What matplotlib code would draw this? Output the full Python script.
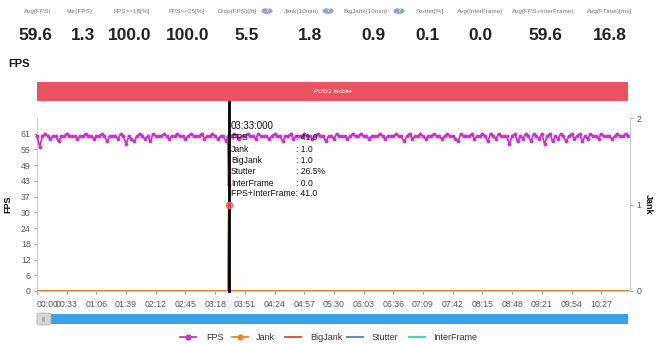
import matplotlib
matplotlib.use("Agg")
import matplotlib.pyplot as plt
from matplotlib.patches import Rectangle, FancyBboxPatch, Circle
from matplotlib.lines import Line2D

plt.rcParams['font.family'] = ['Liberation Sans', 'DejaVu Sans']

# ---- summary header ----
stat_labels = ["Avg(FPS)", "Var(FPS)", "FPS>=18[%]", "FPS>=25[%]", "Drop(FPS)[/h]",
               "Jank(10min)", "BigJank(10min)", "Stutter[%]", "Avg(InterFrame)",
               "Avg(FPS+InterFrame)", "Avg(FTime)[ms]"]
stat_values = ["59.6", "1.3", "100.0", "100.0", "5.5", "1.8", "0.9", "0.1", "0.0", "59.6", "16.8"]
stat_help = [False, False, False, False, True, True, True, False, False, False, False]

# ---- FPS, one sample every 3 seconds ----
step_s = 3
fps_grid = [
    60, 56, 60, 61, 60, 59, 60, 60, 58, 60, 60, 61, 60, 60, 60, 59, 60, 60, 61, 60,
    60, 59, 60, 60, 61, 60, 58, 60, 60, 60, 59, 61, 60, 57, 60, 59, 58, 60, 61, 60,
    59, 60, 58, 61, 60, 60, 60, 61, 60, 59, 60, 60, 61, 60, 60, 59, 60, 61, 60, 60,
    60, 61, 59, 60, 60, 61, 60, 59, 60, 60, 58, 60, 60, 61, 60, 59, 60, 60, 61, 60,
    60, 59, 61, 60, 60, 60, 59, 60, 61, 60, 60, 58, 60, 60, 61, 59, 60, 60, 60, 61,
    60, 60, 59, 60, 61, 60, 60, 58, 60, 60, 59, 61, 60, 60, 60, 59, 60, 61, 60, 60,
    61, 60, 60, 59, 60, 60, 60, 61, 60, 59, 60, 60, 60, 61, 60, 60, 58, 60, 61, 59,
    60, 60, 61, 60, 59, 60, 60, 61, 60, 60, 59, 60, 61, 60, 60, 59, 58, 61, 60, 60,
    60, 61, 59, 60, 60, 61, 60, 58, 61, 60, 59, 61, 60, 60, 60, 57, 60, 61, 58, 60,
    59, 61, 60, 58, 61, 60, 59, 61, 57, 60, 61, 58, 60, 59, 61, 60, 58, 60, 61, 59,
    60, 61, 58, 60, 59, 61, 60, 60, 59, 61, 60, 60, 60, 59, 60, 61, 60, 60, 61, 60,
]

# ---- the single hitch at 03:33, logged at 1-second resolution ----
event_times = [212, 213, 214]
event_fps = [60, 41, 60]
event_jank = [0, 1, 0]
event_bigjank = [0, 1, 0]
event_stutter = [0.0, 26.5, 0.0]
event_interframe = [0, 0, 0]

tick_secs = list(range(0, 628, 33))
tick_labels = ["%02d:%02d" % (s // 60, s % 60) for s in tick_secs]

# merge the regular grid with the event samples
grid_times = [i * step_s for i in range(len(fps_grid))]
merged = sorted(
    [(t, f, 0, 0, 0.0, 0) for t, f in zip(grid_times, fps_grid) if t not in event_times]
    + list(zip(event_times, event_fps, event_jank, event_bigjank, event_stutter,
               event_interframe))
)
times = [m[0] for m in merged]
fps = [m[1] for m in merged]
jank = [m[2] for m in merged]
bigjank = [m[3] for m in merged]
stutter = [m[4] for m in merged]
interframe = [m[5] for m in merged]
event_idx = times.index(213)

# ---- colours ----
C_FPS = "#c935c9"
C_JANK = "#f0842f"
C_BIG = "#e8402f"
C_STUT = "#3b82e0"
C_INTER = "#2fd3b3"
C_BAR = "#e9525f"
C_TXT = "#555555"

W, H = 660, 345
fig = plt.figure(figsize=(W / 100, H / 100), dpi=100)

def fx(px):
    return px / W

def fy(py):
    return 1 - py / H

# header
label_x = [38, 80, 132, 187, 237, 302, 366, 430, 480, 543, 610]
value_x = [35, 83, 130, 188, 247, 310, 373, 428, 480, 545, 610]
help_x = [0, 0, 0, 0, 267, 328, 399, 0, 0, 0, 0]
for lab, val, lx, vx, hlp, hx in zip(stat_labels, stat_values, label_x, value_x, stat_help, help_x):
    fig.text(fx(lx), fy(12), lab, ha="center", va="center", fontsize=4.6, color="#777777")
    fig.text(fx(vx), fy(35), val, ha="center", va="center", fontsize=12.5,
             fontweight="bold", color="#222222")
    if hlp:
        fig.patches.append(Circle((fx(hx), fy(11)), 0.0085, transform=fig.transFigure,
                                  facecolor="#9aa4c8", edgecolor="none"))
        fig.text(fx(hx), fy(11), "?", ha="center", va="center", fontsize=3.5,
                 color="white", fontweight="bold")

fig.text(fx(8), fy(64), "FPS", ha="left", va="center", fontsize=8, fontweight="bold",
         color="#111111")

# scene bar
fig.patches.append(Rectangle((fx(37), fy(101)), fx(628) - fx(37), fy(82) - fy(101),
                             transform=fig.transFigure, facecolor=C_BAR, edgecolor="none"))
fig.text((fx(37) + fx(628)) / 2, (fy(82) + fy(101)) / 2, "PUBG Mobile", ha="center",
         va="center", fontsize=4.5, color="white")

# main axes; stutter axis sits beneath the jank axis
left, right, bottom, top = fx(37), fx(630), fy(291), fy(118)
ax = fig.add_axes([left, bottom, right - left, top - bottom])
ax3 = ax.twinx()
ax2 = ax.twinx()

fps_max = 67.1
ax.set_xlim(0, 659)
ax.set_ylim(0, fps_max)
yt = [round(6.1 * k, 1) for k in range(11)]
ax.set_yticks(yt)
ax.set_yticklabels([str(int(round(v))) for v in yt])
ax.set_xticks(tick_secs)
ax.set_xticklabels(tick_labels)
ax.get_xticklabels()[0].set_horizontalalignment("left")
ax.tick_params(axis="both", labelsize=6.3, colors="#888888", labelcolor=C_TXT, length=2.5,
               width=0.6, pad=2)
ax.tick_params(axis="x", pad=4)
for side in ["top", "right"]:
    ax.spines[side].set_visible(False)
for side in ["left", "bottom"]:
    ax.spines[side].set_color("#cccccc")
    ax.spines[side].set_linewidth(0.8)
ax.set_ylabel("FPS", fontsize=6.5, fontweight="bold", color="#111111", labelpad=6)

ax2.set_ylim(0, 2)
ax2.set_yticks([0, 1, 2])
ax2.tick_params(axis="y", labelsize=6.3, colors="#888888", labelcolor=C_TXT, length=2.5,
                width=0.6, pad=2)
for side in ["top", "left", "bottom"]:
    ax2.spines[side].set_visible(False)
ax2.spines["right"].set_color("#cccccc")
ax2.spines["right"].set_linewidth(0.8)
ax2.set_ylabel("Jank", fontsize=6.5, fontweight="bold", color="#111111", rotation=270,
               labelpad=8)

ax3.set_ylim(0, 100)
ax3.axis("off")

ax.plot(times, fps, color=C_FPS, lw=1.3, marker="o", ms=2.2, mew=0.6, zorder=3,
        clip_on=False)
ax3.plot(times, stutter, color=C_STUT, lw=1.0, zorder=2)
ax2.plot(times, interframe, color=C_INTER, lw=1.0, zorder=2)
ax2.plot(times, bigjank, color=C_BIG, lw=1.0, zorder=2)
ax2.plot(times, jank, color=C_JANK, lw=1.0, zorder=2)

# axis pointer at the selected sample
t_sel = times[event_idx]
ax2.axvline(t_sel, ymin=0, ymax=(291 - 101) / (291 - 118), color="black", lw=2.0,
            clip_on=False, zorder=6)
ax2.plot([t_sel], [jank[event_idx]], "o", ms=4.5, color="#f06060", alpha=0.85, zorder=7)

# tooltip
tip_rows = [("FPS", ": %.1f" % fps[event_idx]),
            ("Jank", ": %.1f" % jank[event_idx]),
            ("BigJank", ": %.1f" % bigjank[event_idx]),
            ("Stutter", ": %.1f%%" % stutter[event_idx]),
            ("InterFrame", ": %.1f" % interframe[event_idx]),
            ("FPS+InterFrame", ": %.1f" % (fps[event_idx] + interframe[event_idx]))]
fig.text(fx(231), fy(126), "03:33:000", ha="left", va="center", fontsize=7, color="#111111",
         zorder=9)
row_y = [138, 149, 160, 171, 183, 194]
for (k, v), ry in zip(tip_rows, row_y):
    if k == "FPS+InterFrame":
        fig.text(fx(231), fy(ry), k + v.lstrip(" "), ha="left",
                 va="center", fontsize=6.2, color="#111111", zorder=9)
        continue
    fig.text(fx(231), fy(ry), k, ha="left", va="center", fontsize=6.2, color="#111111", zorder=9)
    fig.text(fx(296), fy(ry), v, ha="left", va="center", fontsize=6.2, color="#111111", zorder=9)

# zoom slider
fig.patches.append(Rectangle((fx(40), fy(324)), fx(628) - fx(40), fy(314) - fy(324),
                             transform=fig.transFigure, facecolor="#3aa3e8", edgecolor="none"))
fig.patches.append(FancyBboxPatch((fx(37), fy(325)), fx(14), fy(313) - fy(325),
                                  boxstyle="round,pad=0,rounding_size=0.004",
                                  transform=fig.transFigure, facecolor="#d8d8d8",
                                  edgecolor="#aaaaaa", lw=0.5))
fig.text(fx(44), fy(319), "|||", ha="center", va="center", fontsize=4, color="#888888")

# legend
leg_y = fy(337)
legend_items = [("FPS", C_FPS, "o", 188, 206),
                ("Jank", C_JANK, "o", 240, 256),
                ("BigJank", C_BIG, None, 293, 310),
                ("Stutter", C_STUT, None, 355, 372),
                ("InterFrame", C_INTER, None, 417, 433)]
for name, col, mk, cx, tx in legend_items:
    fig.lines.append(Line2D([fx(cx - 8), fx(cx + 8)], [leg_y, leg_y], transform=fig.transFigure,
                            color=col, lw=1.3, marker=None))
    if mk:
        fig.lines.append(Line2D([fx(cx)], [leg_y], transform=fig.transFigure, color=col,
                                marker=mk, ms=3.5, lw=0))
    fig.text(fx(tx), leg_y, name, ha="left", va="center", fontsize=6.5, color="#333333")

fig.savefig("out.png", dpi=100)
